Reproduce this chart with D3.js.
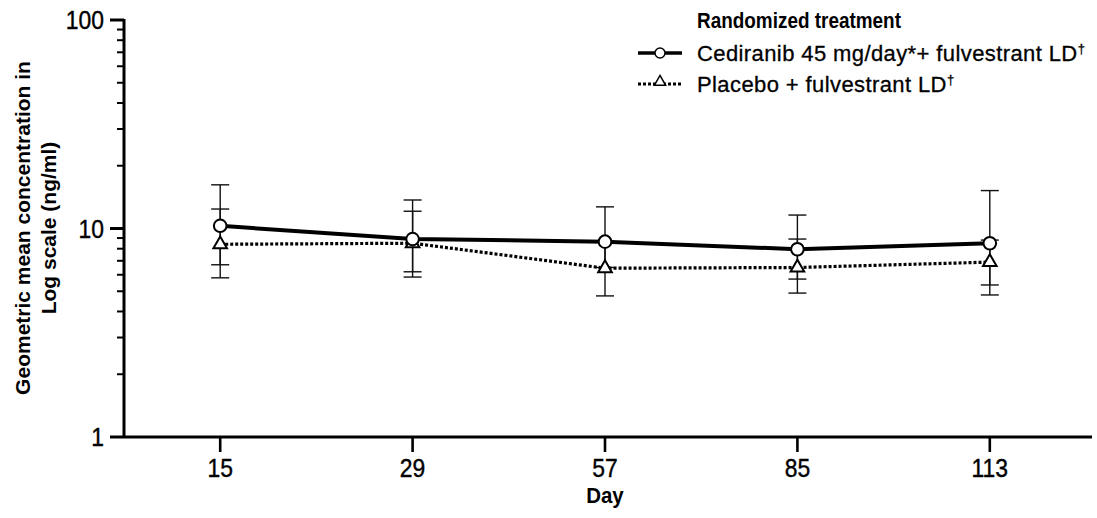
<!DOCTYPE html>
<html>
<head>
<meta charset="utf-8">
<script src="https://cdn.jsdelivr.net/npm/d3@7"></script>
<style>
  html, body { margin: 0; padding: 0; background: #fff; }
  svg { display: block; font-family: "Liberation Sans", Arial, sans-serif; }
</style>
</head>
<body>
<svg id="chart" width="1097" height="518"></svg>
<script>
// ---- data ----
const days = ["15", "29", "57", "85", "113"];
const cedMean = [10.3, 8.9, 8.65, 7.95, 8.5];
const cedUpper = [16.2, 13.7, 12.7, 11.6, 15.2];
const cedLower = [6.7, 5.85, 6.5, 5.72, 4.8];
const plaMean = [8.4, 8.5, 6.45, 6.5, 6.9];
const plaUpper = [12.4, 12.1, 8.7, 8.9, 8.8];
const plaLower = [5.8, 6.2, 4.75, 4.9, 5.36];
const yTicks = [1, 10, 100];
const legendTitle = "Randomized treatment";
const seriesNames = ["Cediranib 45 mg/day*+ fulvestrant LD", "Placebo + fulvestrant LD"];
const dagger = "\u2020";
const xTitle = "Day";
const yTitle = ["Geometric mean concentration in", "Log scale (ng/ml)"];
const footnote = "*Cediranib 45 mg/day";

const svg = d3.select("#chart");
const axisLeftX = 124, axisBottomY = 437, axisRightX = 1092;

const x = d3.scalePoint().domain(days).range([axisLeftX, 1086]).padding(0.5);
const y = d3.scaleLog().domain([1, 100]).range([axisBottomY, 20]);

function condense(sel, f) {
  sel.each(function () {
    const w = this.getComputedTextLength();
    d3.select(this).attr("textLength", w * f).attr("lengthAdjust", "spacingAndGlyphs");
  });
}
function heavy(sel, w) {
  sel.attr("stroke", "#000").attr("stroke-width", w).attr("paint-order", "stroke");
}

// ---- error bars ----
function errorBars(mean, upper, lower, cls) {
  const g = svg.append("g").attr("class", cls);
  days.forEach((d, i) => {
    const cx = x(d);
    g.append("line").attr("x1", cx).attr("x2", cx)
      .attr("y1", y(upper[i])).attr("y2", y(lower[i]))
      .attr("stroke", "#111").attr("stroke-width", 1.4);
    [upper[i], lower[i]].forEach(v => {
      g.append("line").attr("x1", cx - 9).attr("x2", cx + 9)
        .attr("y1", y(v)).attr("y2", y(v))
        .attr("stroke", "#111").attr("stroke-width", 1.4);
    });
  });
}
errorBars(cedMean, cedUpper, cedLower, "err-ced");
errorBars(plaMean, plaUpper, plaLower, "err-pla");

// ---- lines ----
const line = d3.line().x((v, i) => x(days[i])).y(v => y(v));
svg.append("path").datum(plaMean).attr("d", line)
  .attr("fill", "none").attr("stroke", "#000").attr("stroke-width", 3.2)
  .attr("stroke-dasharray", "3,2");
svg.append("path").datum(cedMean).attr("d", line)
  .attr("fill", "none").attr("stroke", "#000").attr("stroke-width", 4);

// ---- markers ----
const tri = d3.symbol().type(d3.symbolTriangle).size(80);
svg.append("g").selectAll("path").data(plaMean).join("path")
  .attr("d", tri)
  .attr("transform", (v, i) => `translate(${x(days[i])},${y(v)})`)
  .attr("fill", "#fff").attr("stroke", "#000").attr("stroke-width", 2);
svg.append("g").selectAll("circle").data(cedMean).join("circle")
  .attr("cx", (v, i) => x(days[i])).attr("cy", v => y(v)).attr("r", 6.3)
  .attr("fill", "#fff").attr("stroke", "#000").attr("stroke-width", 2);

// ---- axes ----
const yAxisG = svg.append("g").attr("transform", `translate(${axisLeftX},0)`);
yAxisG.append("line").attr("x1", 0).attr("x2", 0).attr("y1", y(100) - 1).attr("y2", axisBottomY)
  .attr("stroke", "#000").attr("stroke-width", 3);
const minor = [];
[1, 10].forEach(b => { for (let k = 2; k <= 9; k++) minor.push(b * k); });
yAxisG.selectAll("line.minor").data(minor).join("line").attr("class", "minor")
  .attr("x1", -7).attr("x2", 0).attr("y1", d => y(d)).attr("y2", d => y(d))
  .attr("stroke", "#000").attr("stroke-width", 2);
yAxisG.selectAll("line.major").data(yTicks).join("line").attr("class", "major")
  .attr("x1", -14).attr("x2", 0).attr("y1", d => y(d)).attr("y2", d => y(d))
  .attr("stroke", "#000").attr("stroke-width", 3);
yAxisG.selectAll("text").data(yTicks).join("text")
  .attr("x", -20).attr("y", d => y(d)).attr("dy", "0.36em")
  .attr("text-anchor", "end").attr("font-size", 26).text(d => d)
  .call(condense, 0.88).call(heavy, 0.4);

const xAxisG = svg.append("g").attr("transform", `translate(0,${axisBottomY})`);
xAxisG.append("line").attr("x1", axisLeftX).attr("x2", axisRightX).attr("y1", 0).attr("y2", 0)
  .attr("stroke", "#000").attr("stroke-width", 3.2);
xAxisG.selectAll("line.tick").data(days).join("line").attr("class", "tick")
  .attr("x1", d => x(d)).attr("x2", d => x(d)).attr("y1", 0).attr("y2", 15)
  .attr("stroke", "#000").attr("stroke-width", 2.6);
xAxisG.selectAll("text").data(days).join("text")
  .attr("x", d => x(d)).attr("y", 40).attr("text-anchor", "middle")
  .attr("font-size", 26).text(d => d)
  .call(condense, 0.88).call(heavy, 0.4);

svg.append("text").attr("x", x("57")).attr("y", 503).attr("text-anchor", "middle")
  .attr("font-size", 22).attr("font-weight", "bold").text(xTitle)
  .call(condense, 0.93);

svg.append("g").attr("transform", "translate(0,228) rotate(-90)")
  .selectAll("text").data(yTitle).join("text")
  .attr("x", 0).attr("y", (d, i) => 30 + i * 26).attr("text-anchor", "middle")
  .attr("font-size", 21).attr("font-weight", "bold").text(d => d);

// ---- legend ----
const lg = svg.append("g");
lg.append("text").attr("x", 697).attr("y", 28).attr("font-size", 21.5)
  .attr("font-weight", "bold").text(legendTitle)
  .call(condense, 0.88);
lg.append("line").attr("x1", 638).attr("x2", 682).attr("y1", 53).attr("y2", 53)
  .attr("stroke", "#000").attr("stroke-width", 3.5);
lg.append("circle").attr("cx", 660).attr("cy", 53).attr("r", 5)
  .attr("fill", "#fff").attr("stroke", "#000").attr("stroke-width", 1.5);
lg.append("line").attr("x1", 638).attr("x2", 682).attr("y1", 84).attr("y2", 84)
  .attr("stroke", "#000").attr("stroke-width", 3).attr("stroke-dasharray", "3,2");
lg.append("path").attr("d", d3.symbol().type(d3.symbolTriangle).size(55))
  .attr("transform", "translate(660,82)")
  .attr("fill", "#fff").attr("stroke", "#000").attr("stroke-width", 1.5);
seriesNames.forEach((name, i) => {
  const t = lg.append("text").attr("x", 697).attr("y", 61 + i * 31).attr("font-size", 22)
    .attr("letter-spacing", 0.4).call(heavy, 0.3);
  t.append("tspan").text(name);
  t.append("tspan").attr("font-size", 13).attr("dy", -8).text(dagger);
});

// footnote (cut off at bottom edge, as in the source)
svg.append("text").attr("x", 0).attr("y", 529).attr("font-size", 15)
  .text(footnote);
</script>
</body>
</html>
